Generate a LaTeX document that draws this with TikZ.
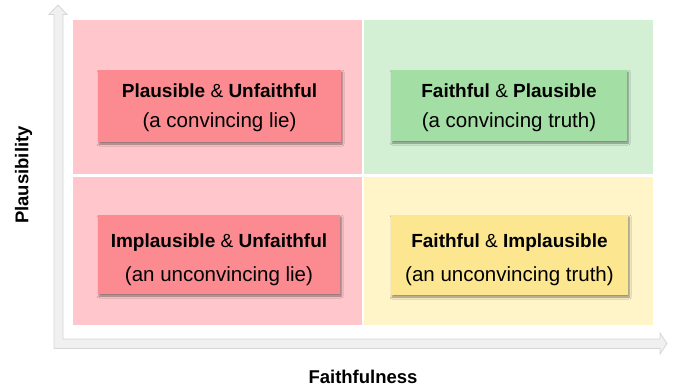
\documentclass[tikz,border=0pt]{standalone}
\usepackage{fontspec}
\setmainfont{Liberation Sans}
\usetikzlibrary{shadows.blur}
\definecolor{pinkbg}{HTML}{FFC7CB}
\definecolor{redbox}{HTML}{FB8B91}
\definecolor{greenbg}{HTML}{D3EFD4}
\definecolor{greenbox}{HTML}{A3DFA5}
\definecolor{yellowbg}{HTML}{FFF5C9}
\definecolor{yellowbox}{HTML}{FCE68F}
\definecolor{axisfill}{HTML}{F0F0F0}
\definecolor{axisline}{HTML}{D6D6D6}
\newcommand{\regline}{\fontsize{20.5}{30}\selectfont}
\tikzset{
  quad/.style={draw=none},
  qbox/.style={draw=none, rectangle, inner sep=0pt,
    blur shadow={shadow xshift=1.2pt, shadow yshift=-2pt, shadow blur steps=6, shadow blur radius=2pt, shadow opacity=45}},
  boxtext/.style={align=center, inner sep=0pt, text=black,
    font=\fontsize{19}{30}\selectfont},
  boxtextb/.style={boxtext, font=\fontsize{19}{34}\selectfont},
  axislabel/.style={font=\bfseries\fontsize{18.5}{22}\selectfont, inner sep=0pt}
}
\begin{document}
\begin{tikzpicture}[x=1pt,y=-1pt]
\useasboundingbox (0,0) rectangle (675,391);
% quadrants
\fill[pinkbg]   (73,20) rectangle (361.7,174.4);
\fill[greenbg]  (364,20) rectangle (653,174.4);
\fill[pinkbg]   (73,176.7) rectangle (361.7,325);
\fill[yellowbg] (364,176.7) rectangle (653,325);
% axes
\filldraw[fill=axisfill, draw=axisline, line width=0.8pt, line join=miter]
  (58,5) -- (67,14.5) -- (63,14.5) -- (63,339) -- (660,339) -- (660,333)
  -- (667,343.5) -- (660,354) -- (660,348.5) -- (54,348.5) -- (54,14.5) -- (49,14.5) -- cycle;
% boxes
\node[qbox, fill=redbox, minimum width=243pt, minimum height=72pt] (pu) at (219.5,106) {};
\node[qbox, fill=greenbox, minimum width=236pt, minimum height=71pt] (fp) at (509,105.5) {};
\node[qbox, fill=redbox, minimum width=242pt, minimum height=79pt] (iu) at (219,254.5) {};
\node[qbox, fill=yellowbox, minimum width=237pt, minimum height=80pt] (fi) at (509.5,255) {};
\node[boxtext] (put) at ([yshift=-2pt]pu.center) {\textbf{Plausible} \& \textbf{Unfaithful}\\{\regline(a convincing lie)}};
\node[boxtext] (fpt) at ([yshift=-2pt]fp.center) {\textbf{Faithful} \& \textbf{Plausible}\\{\regline(a convincing truth)}};
\node[boxtextb] (iut) at ([yshift=-5pt]iu.center) {\textbf{Implausible} \& \textbf{Unfaithful}\\{\fontsize{20.5}{34}\selectfont(an unconvincing lie)}};
\node[boxtextb] (fit) at ([yshift=-5pt]fi.center) {\textbf{Faithful} \& \textbf{Implausible}\\{\fontsize{20.5}{34}\selectfont(an unconvincing truth)}};
% axis labels
\node[axislabel, rotate=90] (ylab) at (23.5,175) {Plausibility};
\node[axislabel] (xlab) at (363,376.5) {Faithfulness};
\end{tikzpicture}
\end{document}
